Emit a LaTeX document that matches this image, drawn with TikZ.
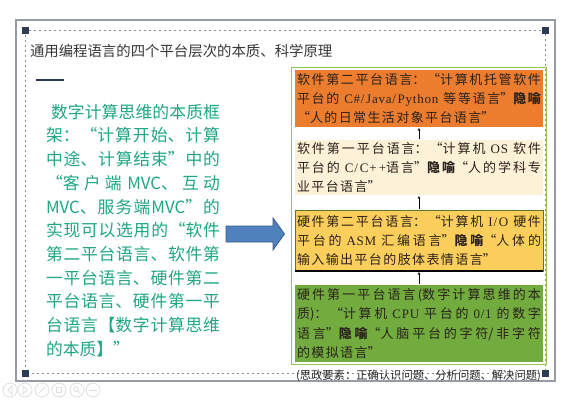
\documentclass[tikz,border=0pt]{standalone}
\usepackage{fontspec}
\setmainfont{Liberation Serif}
\newfontfamily\cjk{Noto Sans CJK SC}
\newfontfamily\boxlatin[LetterSpace=6]{Liberation Serif}
\newcommand\lt[1]{{\boxlatin #1}}
\newcommand\gap{\hspace{5pt}}
% wider, stretchable spacing between Chinese characters in the layer boxes
\newcommand\spacedcjk{\XeTeXlinebreakskip=1.4pt plus 4pt minus 0.5pt\relax}
\usetikzlibrary{arrows.meta}
% allow breaks (and stretch) between Chinese characters
\XeTeXlinebreaklocale "zh"
\XeTeXlinebreakskip=0pt plus 4pt
\setlength\parindent{0pt}

\definecolor{framegray}{RGB}{150,156,165}
\definecolor{dashgray}{RGB}{140,140,140}
\definecolor{navy}{RGB}{45,60,82}
\definecolor{titlegray}{RGB}{55,55,55}
\definecolor{tealtext}{RGB}{32,166,132}
\definecolor{arrowblue}{RGB}{79,129,189}
\definecolor{arrowedge}{RGB}{56,93,138}
\definecolor{boxgreenline}{RGB}{146,200,80}
\definecolor{orangebox}{RGB}{236,124,46}
\definecolor{creambox}{RGB}{253,241,216}
\definecolor{goldbox}{RGB}{252,206,92}
\definecolor{goldedge}{RGB}{90,120,40}
\definecolor{greenbox}{RGB}{114,172,62}
\definecolor{boxtext}{RGB}{42,34,28}
\definecolor{icongray}{RGB}{222,222,222}

\begin{document}
\begin{tikzpicture}[x=1pt,y=-1pt,
  every node/.style={inner sep=0pt, outer sep=0pt},
  layerbox/.style={anchor=north west, inner xsep=2pt, inner ysep=0pt,
    text width=244pt, align=justify, text=boxtext,
    font=\cjk\fontsize{13}{19.2}\selectfont},
  uparrow/.style={-{Stealth[length=3pt,width=2.6pt]}, line width=0.5pt,
    shorten <=1.5pt, shorten >=1pt},
  icon/.style={icongray, line width=0.8pt}]

\useasboundingbox (0,0) rectangle (573,402);
\fill[white] (0,0) rectangle (573,402);

% slide frame with dotted placeholder border and corner handles
\draw[framegray, line width=1.5pt] (16,20) rectangle (555,381);
\draw[dashgray, line width=0.6pt, dash pattern=on 2pt off 3pt] (25,30) rectangle (545,373);
\foreach \cx/\cy in {25/30, 545/30, 25/373, 545/373}
  \fill[navy] (\cx-3.5,\cy-3.5) rectangle (\cx+3.5,\cy+3.5);

% title and underline bar
\node[anchor=west, text=titlegray, font=\cjk\fontsize{14.4}{16}\selectfont] (title) at (30,51)
  {通用编程语言的四个平台层次的本质、科学原理};
\draw[navy, line width=2pt] (36,80) -- (64,80);

% left explanation
\node[anchor=north west, text width=174pt, align=justify, text=tealtext,
  font=\cjk\fontsize{16.8}{23.7}\selectfont] (summary) at (46,104)
  {\hspace*{5pt}数字计算思维的本质框\linebreak
   架：“计算开始、计算\linebreak
   中途、计算结束”中的\linebreak
   “客户端 MVC、互动\linebreak
   MVC、服务端MVC”的\linebreak
   实现可以选用的“软件\linebreak
   第二平台语言、软件第\linebreak
   一平台语言、硬件第二\linebreak
   平台语言、硬件第一平\linebreak
   台语言【数字计算思维\linebreak
   的本质】”};

% block arrow
\draw[fill=arrowblue, draw=arrowedge, line width=0.8pt]
  (226,226) -- (273,226) -- (273,218) -- (284.5,234) -- (273,250) -- (273,242) -- (226,242) -- cycle;

% container of the four platform layers
\draw[boxgreenline, line width=1pt] (291,67) rectangle (546,364);

\node[layerbox, fill=orangebox, minimum height=57pt] (b1) at (295,70)
  {\spacedcjk 软件第二平台语言：“计算机托管软件\linebreak
   平台的\gap\lt{C\#/Java/Python}\gap 等等语言”\textbf{隐喻}\linebreak
   “人的日常生活对象平台语言”};

\node[layerbox, fill=creambox, minimum height=55pt] (b2) at (295,140)
  {\spacedcjk 软件第一平台语言：“计算机\gap\lt{OS}\gap 软件\linebreak
   平台的\gap\lt{C/C++}语言”\textbf{隐喻}“人的学科专\linebreak
   业平台语言”};

\node[layerbox, fill=goldbox, draw=goldedge, line width=0.8pt, minimum height=61pt] (b3) at (295,210)
  {\spacedcjk 硬件第二平台语言：“计算机\gap\lt{I/O}\gap 硬件\linebreak
   平台的\gap\lt{ASM}\gap 汇编语言”\textbf{隐喻}“人体的\linebreak
   输入输出平台的肢体表情语言”};
\draw[black, line width=1.2pt] (b3.south west) -- (b3.south east);

\node[layerbox, fill=greenbox, minimum height=77pt] (b4) at (295,285)
  {\spacedcjk 硬件第一平台语言(数字计算思维的本\linebreak
   质)：“计算机\gap\lt{CPU}\gap 平台的\gap\lt{0/1}\gap 的数字\linebreak
   语言”\textbf{隐喻}“人脑平台的字符/非字符\linebreak
   的模拟语言”};

\draw[uparrow] (b2.north) -- (b1.south);
\draw[uparrow] (b3.north) -- (b2.south);
\draw[uparrow] (b4.north) -- (b3.south);

% footnote on the bottom border
\node[anchor=west, text=black!85, font=\cjk\fontsize{11.3}{13}\selectfont] (note) at (296,376)
  {(思政要素：正确认识问题、分析问题、解决问题)};

% faint slide-show controls
\foreach \ix in {10,25,42,59,77,93}
  \draw[icon] (\ix,390) circle (7);
\draw[icon] (12,386) -- (8,390) -- (12,394) -- cycle;
\draw[icon] (23,386) -- (27,390) -- (23,394) -- cycle;
\draw[icon] (39,393) -- (45,387);
\draw[icon] (56.5,387.5) rectangle (61.5,392.5);
\draw[icon] (76,389) circle (2.5) (78,391) -- (80.5,393.5);
\draw[icon] (89,390) -- (97,390);
\end{tikzpicture}
\end{document}
